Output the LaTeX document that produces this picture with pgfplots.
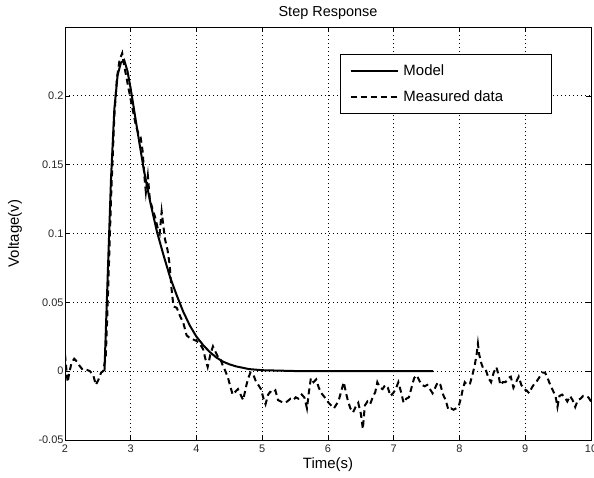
\documentclass[border=0pt]{standalone}
\usepackage{pgfplots}
\pgfplotsset{compat=1.18}
\usepackage{fontspec}
\setmainfont{Liberation Sans}
\begin{document}
\begin{tikzpicture}
\begin{axis}[
  scale only axis,
  width=526bp, height=413bp,
  xmin=2, xmax=10, ymin=-0.05, ymax=0.25,
  xtick={2,3,4,5,6,7,8,9,10},
  ytick={-0.05,0,0.05,0.1,0.15,0.2},
  yticklabels={-0.05,0,0.05,0.1,0.15,0.2},
  /pgf/number format/assume math mode=true,
  tick align=inside,
  major tick length=5bp,
  tick style={black, line width=0.6bp},
  axis line style={black, line width=0.9bp},
  ticklabel style={font=\fontsize{11}{13}\selectfont, color=black!85},
  xticklabel style={yshift=-1.5bp},
  yticklabel style={xshift=2bp},
  grid=major,
  major grid style={black, line width=0.7bp, dash pattern=on 1bp off 3bp},
  title={Step Response},
  title style={font=\fontsize{14.5}{16}\selectfont, yshift=-2bp},
  xlabel={Time(s)},
  ylabel={Voltage(v)},
  xlabel style={font=\fontsize{15}{17}\selectfont, at={(axis description cs:0.5,-0.059)}, anchor=center},
  ylabel style={font=\fontsize{15}{17}\selectfont, at={(axis description cs:-0.095,0.5)}, anchor=center},
  legend style={at={(0.523,0.935)}, anchor=north west, draw=black, line width=0.8bp,
    font=\fontsize{15}{17}\selectfont, inner xsep=9bp, inner ysep=8.5bp, row sep=10bp},
  legend cell align=left,
  legend image code/.code={\draw[#1] (0bp,0bp) -- (47bp,0bp);},
]
\addplot[black, line width=2bp] coordinates {
(2.6,0) (2.65,0.07) (2.7,0.14) (2.75,0.19) (2.8,0.215) (2.85,0.224) (2.9,0.226)
(2.95,0.218) (3.0,0.205) (3.1,0.175) (3.2,0.146) (3.3,0.122) (3.4,0.101)
(3.5,0.084) (3.6,0.068) (3.7,0.055) (3.8,0.043) (3.9,0.033) (4.0,0.025)
(4.1,0.019) (4.2,0.014) (4.3,0.010) (4.4,0.007) (4.5,0.005) (4.6,0.0035)
(4.8,0.0015) (5.0,0.0007) (5.5,0.0001) (6.0,0) (7.6,0)
};
\addlegendentry{\hspace{3bp}Model}
\addplot[black, line width=2bp, dash pattern=on 6bp off 4bp] table {
2.00 0.012
2.02 0.002
2.04 -0.008
2.07 0.000
2.10 0.006
2.14 0.009
2.18 0.007
2.22 0.004
2.27 0.001
2.33 0.001
2.38 0.000
2.43 -0.003
2.47 -0.010
2.51 -0.006
2.55 -0.001
2.58 0.000
2.62 0.010
2.65 0.050
2.70 0.125
2.75 0.185
2.79 0.213
2.83 0.226
2.87 0.231
2.90 0.222
2.94 0.212
2.98 0.202
3.03 0.190
3.08 0.178
3.12 0.172
3.15 0.170
3.18 0.160
3.21 0.140
3.23 0.130
3.26 0.142
3.29 0.125
3.33 0.118
3.37 0.112
3.41 0.104
3.44 0.100
3.47 0.116
3.49 0.108
3.52 0.096
3.56 0.088
3.59 0.078
3.62 0.060
3.65 0.047
3.70 0.046
3.75 0.040
3.80 0.035
3.85 0.026
3.90 0.024
3.95 0.023
4.00 0.022
4.05 0.020
4.10 0.016
4.14 0.008
4.17 0.003
4.21 0.012
4.25 0.018
4.29 0.014
4.33 0.010
4.37 0.008
4.40 0.004
4.44 0.000
4.48 -0.005
4.52 -0.012
4.55 -0.017
4.59 -0.015
4.63 -0.013
4.67 -0.017
4.71 -0.021
4.75 -0.012
4.78 -0.006
4.82 -0.001
4.86 -0.002
4.90 -0.007
4.94 -0.010
4.98 -0.013
5.02 -0.020
5.05 -0.024
5.09 -0.017
5.12 -0.015
5.16 -0.016
5.20 -0.014
5.24 -0.021
5.28 -0.022
5.33 -0.023
5.38 -0.022
5.43 -0.020
5.47 -0.021
5.51 -0.019
5.55 -0.020
5.60 -0.017
5.64 -0.019
5.68 -0.027
5.71 -0.015
5.74 -0.005
5.78 -0.008
5.82 -0.006
5.86 -0.012
5.90 -0.016
5.95 -0.019
6.01 -0.023
6.05 -0.025
6.09 -0.027
6.13 -0.024
6.17 -0.020
6.21 -0.013
6.24 -0.008
6.27 -0.015
6.30 -0.021
6.34 -0.027
6.38 -0.030
6.42 -0.026
6.46 -0.023
6.50 -0.031
6.53 -0.042
6.56 -0.025
6.60 -0.022
6.64 -0.024
6.68 -0.019
6.72 -0.015
6.75 -0.008
6.79 -0.012
6.83 -0.013
6.87 -0.010
6.91 -0.012
6.95 -0.018
6.99 -0.016
7.03 -0.013
7.07 -0.008
7.11 -0.015
7.15 -0.023
7.19 -0.020
7.23 -0.019
7.27 -0.012
7.31 -0.005
7.35 -0.003
7.39 -0.007
7.43 -0.010
7.47 -0.011
7.51 -0.010
7.55 -0.013
7.59 -0.016
7.63 -0.012
7.67 -0.008
7.71 -0.010
7.75 -0.017
7.79 -0.021
7.83 -0.028
7.87 -0.027
7.91 -0.028
7.95 -0.027
7.99 -0.025
8.02 -0.020
8.05 -0.013
8.08 -0.008
8.12 -0.010
8.16 -0.009
8.20 -0.002
8.23 0.004
8.26 0.012
8.28 0.020
8.30 0.012
8.33 0.006
8.36 0.002
8.40 0.001
8.44 -0.005
8.48 -0.008
8.52 -0.001
8.56 0.003
8.59 -0.002
8.62 -0.010
8.66 -0.008
8.70 -0.008
8.74 -0.005
8.78 -0.004
8.82 -0.012
8.86 -0.008
8.90 -0.004
8.94 -0.010
8.98 -0.013
9.02 -0.014
9.06 -0.016
9.10 -0.012
9.14 -0.009
9.18 -0.007
9.22 -0.004
9.26 -0.001
9.30 -0.001
9.34 -0.005
9.38 -0.010
9.42 -0.014
9.46 -0.018
9.49 -0.026
9.52 -0.018
9.56 -0.017
9.60 -0.019
9.64 -0.022
9.68 -0.018
9.72 -0.021
9.76 -0.026
9.80 -0.021
9.84 -0.020
9.88 -0.018
9.92 -0.018
9.96 -0.019
10.00 -0.022
};
\addlegendentry{\makebox[140bp][l]{\hspace{3bp}Measured data}}
\end{axis}
\pgfresetboundingbox
\path ([xshift=-65bp,yshift=-37bp]current axis.south west) rectangle ([xshift=3bp,yshift=27bp]current axis.north east);
\end{tikzpicture}
\end{document}
